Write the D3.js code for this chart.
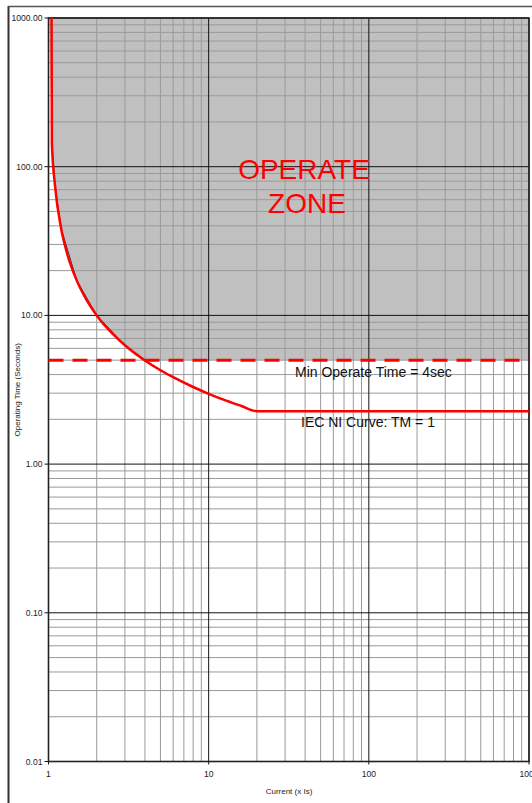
<!DOCTYPE html>
<html>
<head>
<meta charset="utf-8">
<script src="https://cdn.jsdelivr.net/npm/d3@7"></script>
<style>
  body { margin: 0; background: #fff; }
  text { font-family: "Liberation Sans", Arial, sans-serif; }
</style>
</head>
<body>
<div id="chart"></div>
<script>
// IEC normal inverse curve vs operate zone (log-log)

const width = 532;
const height = 803;
const plot = { left: 48.5, right: 529, top: 18, bottom: 761.5 };

// red IEC NI curve, TM = 1
const curveCurrent = [1.045, 1.05, 1.1, 1.2, 1.3, 1.5, 1.7, 2, 2.5, 3, 4, 5, 6, 8, 10, 13, 16, 20, 1000];
const curveTime = [1000, 143.5, 73.4, 38.3, 26.6, 17.2, 13.1, 10.0, 7.57, 6.30, 4.98, 4.28, 3.84, 3.30, 2.97, 2.66, 2.46, 2.27, 2.27];

// grey operate zone boundary
const zoneCurrent = [1.01, 1.05, 1.1, 1.2, 1.5, 2, 3, 3.9];
const zoneTime = [1000, 143.5, 73.4, 38.3, 17.2, 10.0, 6.3, 5.0];

const minOperateTime = 5;

const xTicks = [1, 10, 100, 1000];
const xTickLabels = ['1', '10', '100', '1000'];
const yTicks = [0.01, 0.1, 1, 10, 100, 1000];
const yTickLabels = ['0.01', '0.10', '1.00', '10.00', '100.00', '1000.00'];

const x = d3.scaleLog().domain([1, 1000]).range([plot.left, plot.right]);
const y = d3.scaleLog().domain([0.01, 1000]).range([plot.bottom, plot.top]);

const svg = d3.select('#chart')
	.append('svg')
	.attr('width', width)
	.attr('height', height);

// outer frame
svg.append('line')
	.attr('x1', 8.5).attr('x2', 8.5).attr('y1', 6).attr('y2', height)
	.attr('stroke', '#333').attr('stroke-width', 2);
svg.append('line')
	.attr('x1', 8).attr('x2', width).attr('y1', 6.5).attr('y2', 6.5)
	.attr('stroke', '#555').attr('stroke-width', 1.5);

// operate zone fill
const zonePts = zoneCurrent.map((c, i) => [x(c), y(zoneTime[i])]);
zonePts.push([x(1000), y(minOperateTime)]);
zonePts.push([x(1000), y(1000)]);
svg.append('path')
	.attr('d', d3.line()(zonePts) + 'Z')
	.attr('fill', '#c0c0c0');

// minor grid
const minorX = [];
const minorY = [];
for (let d = 1; d < 1000; d *= 10) for (let k = 2; k <= 9; k++) minorX.push(d * k);
for (let d = 0.01; d < 1000; d *= 10) for (let k = 2; k <= 9; k++) minorY.push(d * k);

svg.append('g').selectAll('line')
	.data(minorX)
	.enter().append('line')
	.attr('x1', d => x(d)).attr('x2', d => x(d))
	.attr('y1', plot.top).attr('y2', plot.bottom)
	.attr('stroke', '#9a9a9a').attr('stroke-width', 1);

svg.append('g').selectAll('line')
	.data(minorY)
	.enter().append('line')
	.attr('x1', plot.left).attr('x2', plot.right)
	.attr('y1', d => y(d)).attr('y2', d => y(d))
	.attr('stroke', '#9a9a9a').attr('stroke-width', 1);

// major grid
svg.append('g').selectAll('line')
	.data(xTicks)
	.enter().append('line')
	.attr('x1', d => x(d)).attr('x2', d => x(d))
	.attr('y1', plot.top).attr('y2', plot.bottom + 3)
	.attr('stroke', '#111').attr('stroke-width', 1);

svg.append('g').selectAll('line')
	.data(yTicks)
	.enter().append('line')
	.attr('x1', plot.left - 4).attr('x2', plot.right)
	.attr('y1', d => y(d)).attr('y2', d => y(d))
	.attr('stroke', '#111').attr('stroke-width', 1);

// plot border
svg.append('rect')
	.attr('x', plot.left).attr('y', plot.top)
	.attr('width', plot.right - plot.left).attr('height', plot.bottom - plot.top)
	.attr('fill', 'none').attr('stroke', '#222').attr('stroke-width', 1.6);

// zone outline (black thin)
svg.append('path')
	.attr('d', d3.line()(zoneCurrent.map((c, i) => [x(c), y(zoneTime[i])]).slice(1)))
	.attr('fill', 'none').attr('stroke', '#000').attr('stroke-width', 0.8);

// min operate time dashed line
svg.append('line')
	.attr('x1', plot.left).attr('x2', plot.right)
	.attr('y1', y(minOperateTime)).attr('y2', y(minOperateTime))
	.attr('stroke', '#ff0000').attr('stroke-width', 3)
	.attr('stroke-dasharray', '15,9');

// IEC NI curve
svg.append('path')
	.datum(curveCurrent.map((c, i) => [c, curveTime[i]]))
	.attr('d', d3.line().x(d => x(d[0])).y(d => y(d[1])).curve(d3.curveMonotoneX))
	.attr('fill', 'none').attr('stroke', '#ff0000').attr('stroke-width', 2.5)
	.attr('stroke-linejoin', 'round');

// tick labels
svg.append('g').selectAll('text')
	.data(yTicks)
	.enter().append('text')
	.attr('x', plot.left - 6)
	.attr('y', d => y(d) + 3)
	.attr('text-anchor', 'end')
	.style('font-size', '8.6px')
	.attr('fill', '#222')
	.text((d, i) => yTickLabels[i]);

svg.append('g').selectAll('text')
	.data(xTicks)
	.enter().append('text')
	.attr('x', d => x(d))
	.attr('y', plot.bottom + 15)
	.attr('text-anchor', 'middle')
	.style('font-size', '8.6px')
	.attr('fill', '#222')
	.text((d, i) => xTickLabels[i]);

// axis titles
svg.append('text')
	.attr('x', 289).attr('y', 794)
	.attr('text-anchor', 'middle')
	.style('font-size', '8px')
	.attr('fill', '#222')
	.text('Current (x Is)');

svg.append('text')
	.attr('transform', `translate(20, ${(plot.top + plot.bottom) / 2}) rotate(-90)`)
	.attr('text-anchor', 'middle')
	.style('font-size', '8px')
	.attr('fill', '#222')
	.text('Operating Time (Seconds)');

// annotations
svg.append('text')
	.attr('x', 304).attr('y', 179)
	.attr('text-anchor', 'middle')
	.style('font-size', '28px')
	.attr('fill', '#ff0000')
	.text('OPERATE');
svg.append('text')
	.attr('x', 307).attr('y', 213)
	.attr('text-anchor', 'middle')
	.style('font-size', '28px')
	.attr('fill', '#ff0000')
	.text('ZONE');

svg.append('text')
	.attr('x', 295).attr('y', 377)
	.style('font-size', '14px')
	.attr('fill', '#111')
	.text('Min Operate Time = 4sec');

svg.append('text')
	.attr('x', 301).attr('y', 427)
	.style('font-size', '14px')
	.attr('fill', '#111')
	.text('IEC NI Curve: TM = 1');
</script>
</body>
</html>
